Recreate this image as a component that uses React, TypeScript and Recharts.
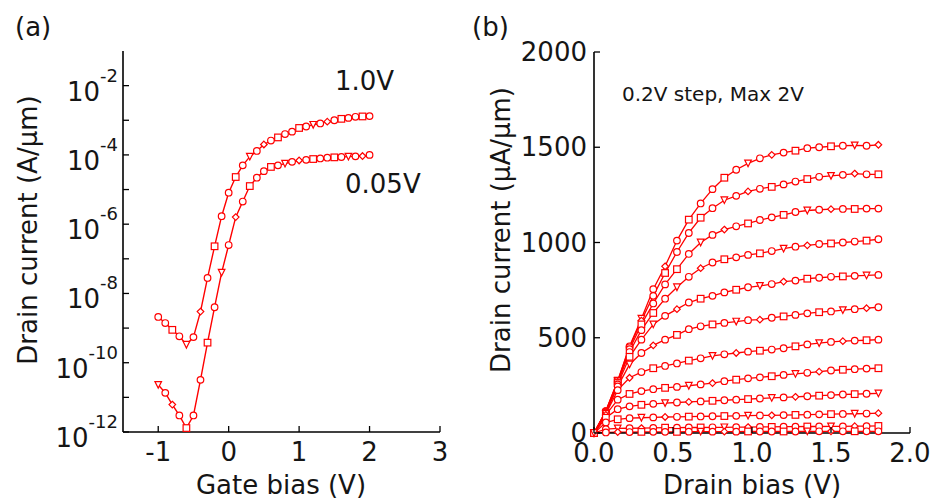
import React from "react";
import { LineChart, Line, XAxis, YAxis } from "recharts";

const FONT = "DejaVu Sans, Verdana, sans-serif";
const INK = "#151515";
const RED = "#ff0000";

// (a) transfer curves, Id vs Vg
const gateBias = [
  -1.0, -0.9, -0.8, -0.7, -0.6, -0.5, -0.4, -0.3, -0.2, -0.1, 0.0, 0.1, 0.2, 0.3, 0.4, 0.5,
  0.6, 0.7, 0.8, 0.9, 1.0, 1.1, 1.2, 1.3, 1.4, 1.5, 1.6, 1.7, 1.8, 1.9, 2.0,
];
const idVd10 = [
  2.1e-9, 1.4e-9, 8.9e-10, 5.8e-10, 3.3e-10, 5.5e-10, 3.0e-9, 2.8e-8, 2.3e-7, 1.7e-6, 8.1e-6,
  2.3e-5, 5.0e-5, 8.9e-5, 1.3e-4, 2.0e-4, 2.6e-4, 3.2e-4, 4.0e-4, 4.7e-4, 6.0e-4, 6.6e-4,
  7.4e-4, 8.1e-4, 9.1e-4, 1.0e-3, 1.1e-3, 1.17e-3, 1.26e-3, 1.29e-3, 1.32e-3,
];
const idVd005 = [
  2.3e-11, 1.35e-11, 6.2e-12, 3.0e-12, 1.3e-12, 3.0e-12, 3.2e-11, 3.8e-10, 4.0e-9, 4.0e-8,
  2.5e-7, 1.6e-6, 4.5e-6, 1.26e-5, 2.2e-5, 3.4e-5, 4.5e-5, 5.0e-5, 5.6e-5, 6.3e-5, 6.9e-5,
  7.2e-5, 7.6e-5, 7.9e-5, 8.3e-5, 8.5e-5, 8.7e-5, 8.9e-5, 9.1e-5, 9.3e-5, 1.0e-4,
];
const gateTicks = [-1, 0, 1, 2, 3];
const decadeTicks = [1e-12, 1e-11, 1e-10, 1e-9, 1e-8, 1e-7, 1e-6, 1e-5, 1e-4, 1e-3, 1e-2];

// (b) output curves, Id vs Vd (uA/um)
const drainBias = [
  0, 0.075, 0.15, 0.225, 0.3, 0.375, 0.45, 0.525, 0.6, 0.675, 0.75, 0.825, 0.9, 0.975, 1.05,
  1.125, 1.2, 1.275, 1.35, 1.425, 1.5, 1.575, 1.65, 1.725, 1.8,
];
const vg20 = [0, 115, 275, 455, 600, 755, 875, 1010, 1120, 1205, 1280, 1340, 1382, 1415, 1442, 1460, 1472, 1482, 1495, 1500, 1505, 1508, 1510, 1508, 1513];
const vg18 = [0, 115, 272, 450, 590, 720, 840, 950, 1050, 1130, 1180, 1222, 1245, 1268, 1282, 1292, 1305, 1320, 1333, 1345, 1350, 1355, 1362, 1358, 1358];
const vg16 = [0, 112, 268, 440, 570, 680, 780, 860, 940, 1000, 1040, 1068, 1085, 1100, 1118, 1132, 1145, 1160, 1168, 1172, 1175, 1176, 1176, 1178, 1178];
const vg14 = [0, 110, 262, 425, 540, 630, 705, 765, 820, 865, 895, 912, 922, 935, 943, 955, 968, 978, 985, 992, 995, 1000, 1005, 1010, 1017];
const vg12 = [0, 108, 255, 400, 490, 570, 615, 650, 685, 705, 720, 738, 752, 765, 772, 782, 795, 800, 810, 815, 820, 822, 825, 827, 830];
const vg10 = [0, 105, 245, 360, 420, 460, 490, 515, 545, 560, 570, 578, 585, 592, 595, 605, 612, 620, 628, 634, 638, 645, 650, 655, 660];
const vg08 = [0, 100, 225, 290, 320, 340, 352, 365, 380, 392, 405, 413, 420, 427, 432, 438, 445, 455, 465, 472, 478, 482, 485, 487, 490];
const vg06 = [0, 95, 175, 205, 220, 230, 237, 242, 248, 255, 262, 272, 280, 287, 292, 298, 305, 310, 316, 322, 328, 332, 335, 338, 340];
const vg04 = [0, 80, 125, 140, 148, 153, 157, 160, 163, 166, 169, 172, 175, 178, 181, 184, 187, 190, 193, 196, 199, 202, 204, 206, 208];
const vg02 = [0, 55, 72, 78, 80, 82, 84, 85, 86, 87, 88, 89, 90, 91, 92, 93, 94, 95, 96, 98, 99, 100, 101, 102, 104];
const vg00 = [0, 20, 24, 25, 26, 27, 28, 28, 29, 29, 30, 30, 31, 31, 32, 32, 33, 33, 34, 34, 35, 35, 36, 36, 37];
const vgm02 = [0, 3, 5, 5, 6, 6, 6, 6, 7, 7, 7, 7, 7, 8, 8, 8, 8, 8, 8, 9, 9, 9, 9, 9, 9];
const outCurves = [vg20, vg18, vg16, vg14, vg12, vg10, vg08, vg06, vg04, vg02, vg00, vgm02];
const drainTicks = [0, 0.5, 1, 1.5, 2];
const currentTicks = [0, 500, 1000, 1500, 2000];

const transferRows = gateBias.map((vg, i) => ({ vg, sat: idVd10[i], lin: idVd005[i] }));
const outputRows = drainBias.map((vd, i) => {
  const row: Record<string, number> = { vd };
  outCurves.forEach((c, k) => (row[`c${k}`] = c[i]));
  return row;
});

// the scanned figure mixes marker glyphs along each curve
const SHAPES = ["o", "o", "s", "o", "t", "o", "d", "o", "s"];

function Marker(props: any) {
  const { cx, cy, index, seed = 0 } = props;
  if (cx == null || cy == null || Number.isNaN(cx) || Number.isNaN(cy)) return null;
  const r = 3.3;
  const k = SHAPES[(index + seed) % SHAPES.length];
  const st = { fill: "#fff", stroke: RED, strokeWidth: 1.2 };
  if (k === "s") return <rect x={cx - r} y={cy - r} width={2 * r} height={2 * r} {...st} />;
  if (k === "t")
    return <polygon points={`${cx - r},${cy - r} ${cx + r},${cy - r} ${cx},${cy + r}`} {...st} />;
  if (k === "d")
    return <polygon points={`${cx},${cy - r} ${cx + r},${cy} ${cx},${cy + r} ${cx - r},${cy}`} {...st} />;
  return <circle cx={cx} cy={cy} r={r} {...st} />;
}

function LogTick({ x, y, payload }: any) {
  const e = Math.round(Math.log10(payload.value));
  return (
    <g>
      <line x1={x} x2={x + 6} y1={y} y2={y} stroke="#000" strokeWidth={1.3} />
      {e % 2 === 0 && (
        <text x={x - 5} y={y + 15} textAnchor="end" fontFamily={FONT} fontSize={26} fill={INK}>
          10
          <tspan dy={-19} fontSize={18}>
            {e}
          </tspan>
        </text>
      )}
    </g>
  );
}

function LinTickY({ x, y, payload }: any) {
  return (
    <g>
      <line x1={x} x2={x + 6} y1={y} y2={y} stroke="#000" strokeWidth={1.3} />
      <text x={x - 7} y={y + 9} textAnchor="end" fontFamily={FONT} fontSize={26} fill={INK}>
        {payload.value}
      </text>
    </g>
  );
}

function makeTickX(fmt: (v: number) => string) {
  return ({ x, y, payload }: any) => (
    <g>
      <line x1={x} x2={x} y1={y} y2={y - 6} stroke="#000" strokeWidth={1.3} />
      <text x={x} y={y + 29} textAnchor="middle" fontFamily={FONT} fontSize={26} fill={INK}>
        {fmt(payload.value)}
      </text>
    </g>
  );
}

const txt = { fontFamily: FONT, fill: INK };

function TransferChart() {
  return (
    <LineChart width={460} height={504} data={transferRows} margin={{ top: 51, right: 20, bottom: 32, left: 63 }}>
      <XAxis
        dataKey="vg"
        type="number"
        domain={[-1.5, 3]}
        ticks={gateTicks}
        interval={0}
        height={40}
        tickSize={0}
        tickMargin={0}
        tick={makeTickX((v) => String(v))}
        axisLine={{ stroke: "#000", strokeWidth: 1.6 }}
      />
      <XAxis xAxisId="top" orientation="top" type="number" domain={[-1.5, 3]} height={0} tick={false} tickLine={false} axisLine={{ stroke: "#000", strokeWidth: 1.6 }} />
      <YAxis
        type="number"
        scale="log"
        domain={[1e-12, 1e-1]}
        allowDataOverflow
        ticks={decadeTicks}
        interval={0}
        width={60}
        tickSize={0}
        tickMargin={0}
        tick={<LogTick />}
        axisLine={{ stroke: "#000", strokeWidth: 1.6 }}
      />
      <YAxis yAxisId="right" orientation="right" type="number" domain={[0, 1]} width={0} tick={false} tickLine={false} axisLine={{ stroke: "#000", strokeWidth: 1.6 }} />
      <Line dataKey="sat" stroke={RED} strokeWidth={1.4} isAnimationActive={false} activeDot={false} dot={(p: any) => <Marker key={`s${p.index}`} {...p} seed={0} />} />
      <Line dataKey="lin" stroke={RED} strokeWidth={1.4} isAnimationActive={false} activeDot={false} dot={(p: any) => <Marker key={`l${p.index}`} {...p} seed={4} />} />
      <text x={15} y={36} fontSize={26} {...txt}>(a)</text>
      <text x={335} y={90} fontSize={26} {...txt}>1.0V</text>
      <text x={345} y={193} fontSize={26} {...txt}>0.05V</text>
      <text x={281} y={494} fontSize={26} textAnchor="middle" {...txt}>Gate bias (V)</text>
      <text transform="translate(37,230) rotate(-90)" fontSize={26} textAnchor="middle" {...txt}>
        Drain current (A/μm)
      </text>
    </LineChart>
  );
}

function OutputChart() {
  return (
    <LineChart width={473} height={504} data={outputRows} margin={{ top: 52, right: 23, bottom: 31, left: 64 }}>
      <XAxis
        dataKey="vd"
        type="number"
        domain={[0, 2]}
        ticks={drainTicks}
        interval={0}
        height={40}
        tickSize={0}
        tickMargin={0}
        tick={makeTickX((v) => v.toFixed(1))}
        axisLine={{ stroke: "#000", strokeWidth: 1.6 }}
      />
      <XAxis xAxisId="top" orientation="top" type="number" domain={[0, 2]} height={0} tick={false} tickLine={false} axisLine={{ stroke: "#000", strokeWidth: 1.6 }} />
      <YAxis
        type="number"
        domain={[0, 2000]}
        ticks={currentTicks}
        interval={0}
        width={70}
        tickSize={0}
        tickMargin={0}
        tick={<LinTickY />}
        axisLine={{ stroke: "#000", strokeWidth: 1.6 }}
      />
      <YAxis yAxisId="right" orientation="right" type="number" domain={[0, 1]} width={0} tick={false} tickLine={false} axisLine={{ stroke: "#000", strokeWidth: 1.6 }} />
      {outCurves.map((_, k) => (
        <Line
          key={k}
          dataKey={`c${k}`}
          stroke={RED}
          strokeWidth={1.3}
          isAnimationActive={false}
          activeDot={false}
          dot={(p: any) => <Marker key={`c${k}-${p.index}`} {...p} seed={k * 2} />}
        />
      ))}
      <text x={12} y={36} fontSize={26} {...txt}>(b)</text>
      <text x={162} y={101} fontSize={20} {...txt}>0.2V step, Max 2V</text>
      <text x={292} y={494} fontSize={26} textAnchor="middle" {...txt}>Drain bias (V)</text>
      <text transform="translate(50,230) rotate(-90)" fontSize={26} textAnchor="middle" {...txt}>
        Drain current (μA/μm)
      </text>
    </LineChart>
  );
}

export default function App() {
  return (
    <div style={{ position: "absolute", left: 0, top: 0, width: 933, height: 504, background: "#fff" }}>
      <div style={{ position: "absolute", left: 0, top: 0 }}>
        <TransferChart />
      </div>
      <div style={{ position: "absolute", left: 460, top: 0 }}>
        <OutputChart />
      </div>
    </div>
  );
}
